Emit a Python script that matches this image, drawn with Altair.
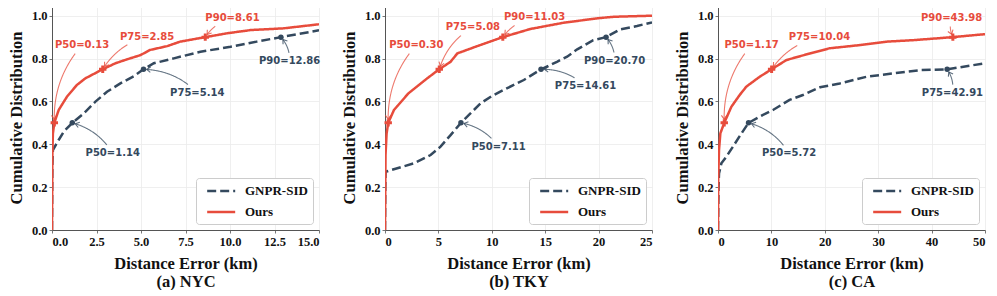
import math
import altair as alt
import pandas as pd

# ---------------- data ----------------
SERIES = ["GNPR-SID", "Ours"]
COLORS = ["#34495E", "#E74C3C"]
SUBTITLES = ["(a) NYC", "(b) TKY", "(c) CA"]
X_MAX = [15, 25, 50]
X_TICKS = [[0, 2.5, 5, 7.5, 10, 12.5, 15], [0, 5, 10, 15, 20, 25], [0, 10, 20, 30, 40, 50]]
X_FMT = [".1f", "d", "d"]
Y_TICKS = [0, 0.2, 0.4, 0.6, 0.8, 1.0]

nyc_gnpr_x = [0, 0.02, 0.05, 0.375, 0.66, 1.14, 1.78, 2.44, 3.09, 3.84, 4.6, 5.14, 5.72, 6.84, 8.34, 10.03, 11.5, 12.86, 15.0]
nyc_gnpr_y = [0, 0.3, 0.373, 0.42, 0.459, 0.5, 0.544, 0.599, 0.645, 0.684, 0.718, 0.75, 0.778, 0.801, 0.832, 0.855, 0.879, 0.9, 0.932]
nyc_ours_x = [0, 0.02, 0.05, 0.13, 0.375, 0.84, 1.4, 1.88, 2.34, 2.85, 3.56, 4.2, 4.97, 5.5, 6.47, 7.2, 8.61, 9.84, 11.16, 13.0, 15.0]
nyc_ours_y = [0, 0.35, 0.45, 0.5, 0.56, 0.622, 0.677, 0.708, 0.728, 0.75, 0.778, 0.796, 0.816, 0.84, 0.858, 0.879, 0.9, 0.918, 0.933, 0.941, 0.96]

tky_gnpr_x = [0, 0.03, 0.06, 1.15, 2.7, 4.27, 5.2, 6.14, 7.11, 8.0, 8.95, 10.0, 11.4, 13.0, 14.61, 16.1, 17.05, 18.0, 19.5, 20.7, 22.0, 23.6, 25.0]
tky_gnpr_y = [0, 0.2, 0.272, 0.288, 0.311, 0.35, 0.389, 0.443, 0.5, 0.544, 0.591, 0.625, 0.661, 0.7, 0.75, 0.785, 0.809, 0.843, 0.886, 0.9, 0.936, 0.952, 0.969]
tky_ours_x = [0, 0.05, 0.15, 0.3, 0.84, 1.15, 2.2, 3.96, 5.08, 6.14, 6.77, 8.63, 11.03, 13.6, 16.7, 19.9, 21.4, 25.0]
tky_ours_y = [0, 0.35, 0.45, 0.5, 0.56, 0.578, 0.638, 0.708, 0.75, 0.785, 0.824, 0.858, 0.9, 0.938, 0.967, 0.988, 0.995, 1.0]

ca_gnpr_x = [0, 0.1, 0.19, 0.63, 1.56, 2.8, 4.4, 5.72, 7.8, 10.3, 13.4, 15.9, 19.1, 22.8, 27.8, 32.8, 37.8, 42.91, 50.0]
ca_gnpr_y = [0, 0.2, 0.264, 0.311, 0.342, 0.389, 0.451, 0.5, 0.529, 0.56, 0.607, 0.63, 0.666, 0.684, 0.715, 0.731, 0.746, 0.75, 0.778]
ca_ours_x = [0, 0.05, 0.19, 0.44, 1.17, 2.5, 4.06, 5.3, 7.8, 10.04, 12.8, 17.2, 20.9, 26.6, 31.6, 36.6, 43.98, 50.0]
ca_ours_y = [0, 0.25, 0.373, 0.451, 0.5, 0.575, 0.63, 0.669, 0.715, 0.75, 0.793, 0.824, 0.848, 0.863, 0.879, 0.886, 0.9, 0.914]

CURVES = [
    (nyc_gnpr_x, nyc_gnpr_y, nyc_ours_x, nyc_ours_y),
    (tky_gnpr_x, tky_gnpr_y, tky_ours_x, tky_ours_y),
    (ca_gnpr_x, ca_gnpr_y, ca_ours_x, ca_ours_y),
]

# annotations: series, label, point x, point y, text x, text y
nyc_ann = [
    ("Ours", "P50=0.13", 0.13, 0.5, 1.69, 0.863),
    ("Ours", "P75=2.85", 2.85, 0.75, 5.34, 0.902),
    ("Ours", "P90=8.61", 8.61, 0.9, 10.14, 0.988),
    ("GNPR-SID", "P50=1.14", 1.14, 0.5, 3.41, 0.358),
    ("GNPR-SID", "P75=5.14", 5.14, 0.75, 8.16, 0.641),
    ("GNPR-SID", "P90=12.86", 12.86, 0.9, 13.35, 0.789),
]
tky_ann = [
    ("Ours", "P50=0.30", 0.30, 0.5, 2.93, 0.863),
    ("Ours", "P75=5.08", 5.08, 0.75, 8.23, 0.946),
    ("Ours", "P90=11.03", 11.03, 0.9, 14.0, 0.992),
    ("GNPR-SID", "P50=7.11", 7.11, 0.5, 10.63, 0.389),
    ("GNPR-SID", "P75=14.61", 14.61, 0.75, 18.77, 0.672),
    ("GNPR-SID", "P90=20.70", 20.70, 0.9, 21.5, 0.79),
]
ca_ann = [
    ("Ours", "P50=1.17", 1.17, 0.5, 6.3, 0.863),
    ("Ours", "P75=10.04", 10.04, 0.75, 19.0, 0.899),
    ("Ours", "P90=43.98", 43.98, 0.9, 43.75, 0.988),
    ("GNPR-SID", "P50=5.72", 5.72, 0.5, 13.3, 0.358),
    ("GNPR-SID", "P75=42.91", 42.91, 0.75, 43.9, 0.641),
]
ANNS = [nyc_ann, tky_ann, ca_ann]

# ---------------- layout ----------------
W, H = 267, 225
YMAX = 1.05
SERIF = "Liberation Serif"
SANS = "DejaVu Sans"


def to_px(x, y, xmax):
    return x / xmax * W, H - y / YMAX * H


def to_data(px, py, xmax):
    return px / W * xmax, (H - py) / H * YMAX


def arrow_path(label, px, py, tx, ty, xmax, rad=0.2, n=120):
    Tx, Ty = to_px(tx, ty, xmax)
    Px, Py = to_px(px, py, xmax)
    dx, dy = Px - Tx, -(Py - Ty)  # y-up
    mx, my = (Tx + Px) / 2, -(Ty + Py) / 2
    cx, cy = mx + rad * dy, -(my - rad * dx)
    hw, hh = len(label) * 6.7 / 2 + 2, 6 + 2
    pts = []
    for i in range(n + 1):
        t = i / n
        bx = (1 - t) ** 2 * Tx + 2 * (1 - t) * t * cx + t ** 2 * Px
        by = (1 - t) ** 2 * Ty + 2 * (1 - t) * t * cy + t ** 2 * Py
        if abs(bx - Tx) <= hw and abs(by - Ty) <= hh:
            continue
        if math.hypot(bx - Px, by - Py) < 3:
            continue
        pts.append((bx, by))
    (ax, ay), (bx, by) = pts[-2], pts[-1]
    ang = math.degrees(math.atan2(by - ay, bx - ax)) % 360
    return [to_data(a, b, xmax) for a, b in pts], to_data(bx, by, xmax), ang


def panel(k):
    xmax = X_MAX[k]
    gx, gy, ox, oy = CURVES[k]
    rows = [{"x": a, "y": b, "s": "GNPR-SID"} for a, b in zip(gx, gy)]
    rows += [{"x": a, "y": b, "s": "Ours"} for a, b in zip(ox, oy)]
    lines_df = pd.DataFrame(rows)

    pts, arr_rows, heads, texts = [], [], [], []
    for j, (s, lab, px, py, tx, ty) in enumerate(ANNS[k]):
        pts.append({"x": px, "y": py, "s": s})
        texts.append({"x": tx, "y": ty, "s": s, "t": lab})
        path, (hx, hy), ang = arrow_path(lab, px, py, tx, ty, xmax)
        for i, (a, b) in enumerate(path):
            arr_rows.append({"x": a, "y": b, "s": s, "id": j, "i": i})
        heads.append({"x": hx, "y": hy, "s": s, "a": ang})
    pts_df, arr_df = pd.DataFrame(pts), pd.DataFrame(arr_rows)
    heads_df, texts_df = pd.DataFrame(heads), pd.DataFrame(texts)

    xs = alt.Scale(domain=[0, xmax], nice=False, zero=False)
    ys = alt.Scale(domain=[0, YMAX], nice=False)
    xa = alt.Axis(values=X_TICKS[k], format=X_FMT[k], title=["Distance Error (km)", SUBTITLES[k]])
    ya = alt.Axis(values=Y_TICKS, format=".1f", title="Cumulative Distribution")
    X = alt.X("x:Q", scale=xs, axis=xa)
    Y = alt.Y("y:Q", scale=ys, axis=ya)
    Xn = alt.X("x:Q", scale=xs)
    Yn = alt.Y("y:Q", scale=ys)
    cscale = alt.Scale(domain=SERIES, range=COLORS)
    leg = alt.Legend(title=None, orient="bottom-right", offset=6, labelFont=SERIF,
                     labelFontWeight="bold", labelFontSize=13, labelColor="#111",
                     symbolType="M -0.28 0 H 4.03", symbolSize=169, symbolStrokeWidth=2.5,
                     strokeColor="#cccccc", fillColor="white", padding=5, cornerRadius=3,
                     rowPadding=6, labelOffset=28)

    lines = alt.Chart(lines_df).mark_line(strokeWidth=2.5, clip=True).encode(
        x=X, y=Y,
        color=alt.Color("s:N", scale=cscale, legend=leg),
        strokeDash=alt.StrokeDash("s:N", scale=alt.Scale(domain=SERIES, range=[[9, 4], [1, 0]]), legend=leg),
    )
    arrows = alt.Chart(arr_df).mark_line(strokeWidth=1.1, opacity=0.75).encode(
        x=Xn, y=Yn, detail="id:N", order="i:Q",
        color=alt.Color("s:N", scale=cscale, legend=None),
    )
    arrow_heads = alt.Chart(heads_df).mark_point(
        shape="M -1 -0.7 L 0 0 L -1 0.7", size=60, filled=False, strokeWidth=1.1, opacity=0.8
    ).encode(
        x=Xn, y=Yn, angle=alt.Angle("a:Q", scale=None),
        color=alt.Color("s:N", scale=cscale, legend=None),
    )
    red_pts = alt.Chart(pts_df[pts_df.s == "Ours"]).mark_point(
        shape="cross", size=55, filled=True, opacity=1, color=COLORS[1]
    ).encode(x=Xn, y=Yn)
    dark_pts = alt.Chart(pts_df[pts_df.s == "GNPR-SID"]).mark_point(
        shape="circle", size=30, filled=True, opacity=1, color=COLORS[0]
    ).encode(x=Xn, y=Yn)
    labels = alt.Chart(texts_df).mark_text(font=SANS, fontWeight="bold", fontSize=10).encode(
        x=Xn, y=Yn, text="t:N",
        color=alt.Color("s:N", scale=cscale, legend=None),
    )
    return alt.layer(lines, arrows, arrow_heads, red_pts, dark_pts, labels).resolve_scale(
        color="shared").properties(width=W, height=H)


chart = alt.hconcat(*[panel(k) for k in range(3)], spacing=66, bounds="flush").resolve_scale(
    color="independent", strokeDash="independent"
).resolve_legend(color="independent", strokeDash="independent").properties(
    padding={"top": -3, "left": 0, "right": 0, "bottom": 0}
).configure_view(stroke=None).configure_axis(
    labelFont=SERIF, labelFontWeight="bold", labelFontSize=12.5, labelColor="#111",
    titleFont=SERIF, titleFontWeight="bold", titleFontSize=16.5, titleColor="#111",
    domainColor="#555", tickColor="#777", tickSize=3, labelPadding=2,
    gridColor="#ebebeb", gridWidth=0.8, titleLineHeight=18,
).configure_axisX(titlePadding=8).configure_axisY(titlePadding=7)

chart.save("out.html", embed_options={"renderer": "svg", "actions": False})
